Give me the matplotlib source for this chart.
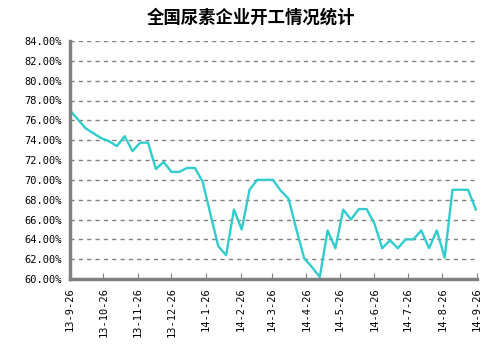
import matplotlib.pyplot as plt
import pandas as pd
import numpy as np

plt.rcParams['font.family'] = ['Noto Sans CJK SC', 'DejaVu Sans']

# weekly operating rate (%), from 13-9-26 to 14-9-26
rates = [77.0, 76.1, 75.2, 74.7, 74.2, 73.9, 73.4, 74.4, 72.9, 73.75,
         73.75, 71.1, 71.8, 70.8, 70.8, 71.2, 71.2, 69.8, 66.5, 63.3,
         62.4, 67.0, 65.0, 69.0, 70.0, 70.0, 70.0, 68.9, 68.1, 65.0,
         62.1, 61.2, 60.2, 64.9, 63.1, 67.0, 66.0, 67.05, 67.05, 65.6,
         63.1, 63.9, 63.1, 64.0, 64.0, 64.9, 63.1, 64.9, 62.15, 69.0,
         69.0, 69.0, 67.0]
dates = pd.date_range('2013-09-26', periods=len(rates), freq='7D')
tick_dates = pd.date_range('2013-09-26', '2014-09-26', freq='MS') + pd.Timedelta(days=25)
tick_dates = [pd.Timestamp('2013-09-26')] + [d for d in tick_dates if d > pd.Timestamp('2013-09-26')]
tick_labels = [f"{d.year % 100}-{d.month}-{d.day}" for d in tick_dates]
yticks = np.arange(60, 84.1, 2)

fig = plt.figure(figsize=(5.03, 3.51), dpi=100)
ax = fig.add_axes([70/503, 1 - 279/351, 407/503, 238/351])

ax.plot(dates, rates, color='#33CCCC', lw=1.7)

ax.set_ylim(60, 84)
ax.set_xlim(pd.Timestamp('2013-09-26'), pd.Timestamp('2014-09-26'))
ax.set_yticks(yticks)
ax.set_yticklabels([f"{v:.2f}%" for v in yticks], family='DejaVu Sans Mono', fontsize=7.5)
ax.set_xticks(tick_dates)
ax.set_xticklabels(tick_labels, rotation=90, family='DejaVu Sans Mono', fontsize=7.5)
ax.tick_params(axis='y', length=0, pad=6)
ax.tick_params(axis='x', direction='in', length=4, color='#808080', pad=6)
ax.grid(axis='y', color='#808080', ls=(0, (3, 3)), lw=1)
for s in ['top', 'right']:
    ax.spines[s].set_visible(False)
for s in ['left', 'bottom']:
    ax.spines[s].set_color('#808080')
    ax.spines[s].set_linewidth(2.5)

fig.suptitle('全国尿素企业开工情况统计', y=1 - 18/351, va='center', fontsize=12.5, fontweight='bold')

fig.savefig('out.png', dpi=100)
